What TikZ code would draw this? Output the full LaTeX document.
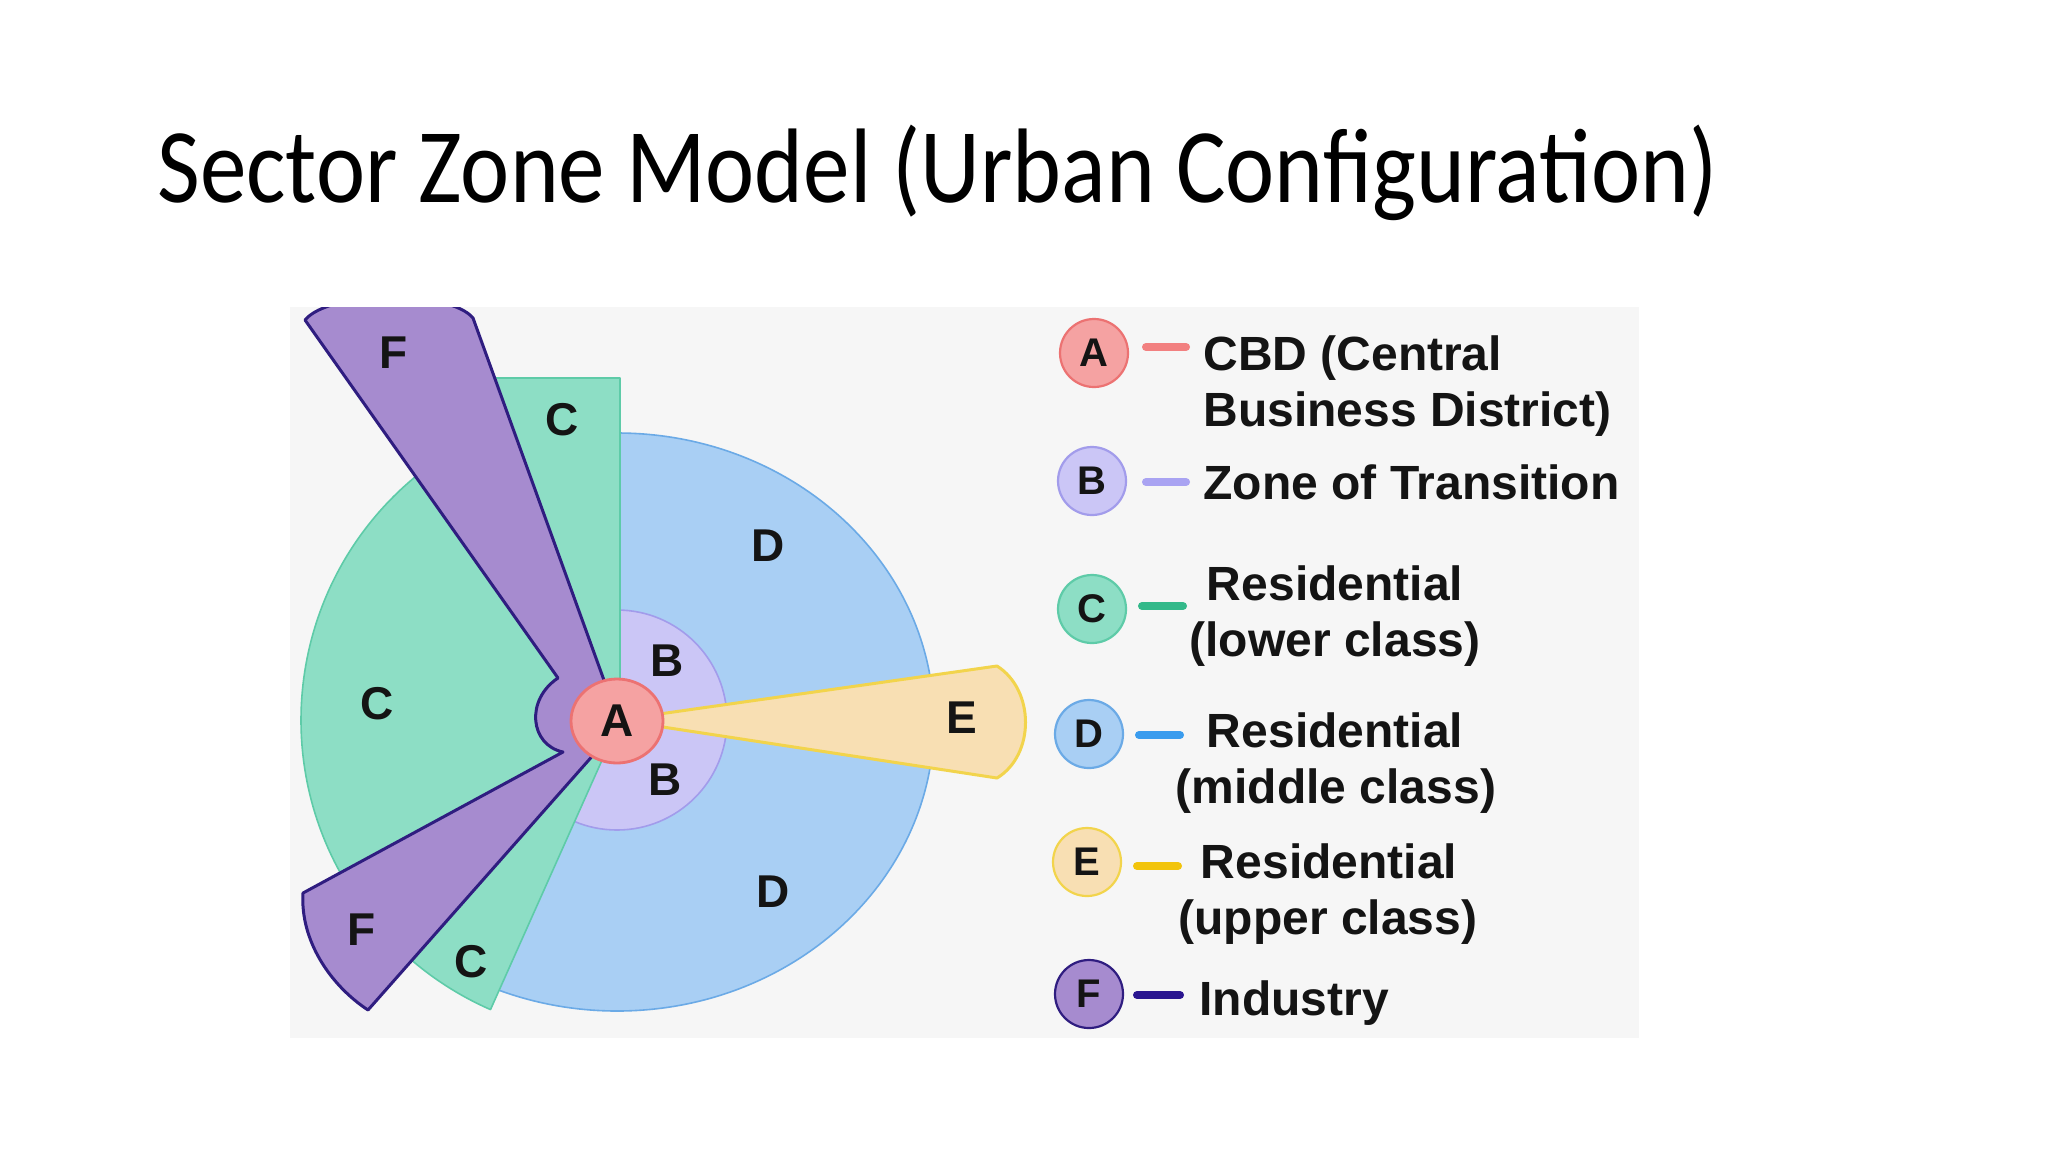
\documentclass[tikz,border=0pt]{standalone}
\usepackage{fontspec}
\setmainfont{Liberation Sans}
\newfontfamily\titlefont{Carlito}
\usetikzlibrary{shapes.geometric}
\definecolor{panel}{HTML}{F6F6F6}
\definecolor{Dfill}{HTML}{A9CFF4}
\definecolor{Dline}{HTML}{6BAAE6}
\definecolor{Bfill}{HTML}{CBC6F6}
\definecolor{Bline}{HTML}{A29CEB}
\definecolor{Cfill}{HTML}{8DDEC5}
\definecolor{Cline}{HTML}{5ECBA8}
\definecolor{Ffill}{HTML}{A68BCF}
\definecolor{Fline}{HTML}{2F1D80}
\definecolor{Efill}{HTML}{F8DFB3}
\definecolor{Eline}{HTML}{F2D44C}
\definecolor{Afill}{HTML}{F5A2A2}
\definecolor{Aline}{HTML}{EC7272}
\definecolor{Adash}{HTML}{F28080}
\definecolor{Bdash}{HTML}{A9A3F2}
\definecolor{Cdash}{HTML}{33B98A}
\definecolor{Ddash}{HTML}{3A9CEE}
\definecolor{Edash}{HTML}{F2C40C}
\definecolor{Fdash}{HTML}{2A1590}
\definecolor{ink}{HTML}{141414}
\begin{document}
\begin{tikzpicture}[x=0.5pt,y=-0.5pt,
  lbl/.style={font=\fontsize{23}{23}\selectfont\bfseries, text=ink, inner sep=0pt},
  legtext/.style={font=\fontsize{24}{24}\selectfont\bfseries, text=ink, inner sep=0pt},
  legcirc/.style={circle, minimum size=34pt, inner sep=0pt, line width=1.1pt, text=ink,
    font=\fontsize{20}{20}\selectfont\bfseries},
  legdash/.style={line width=4pt, line cap=round},
  zone/.style={line width=0.8pt, line join=round}
]
\fill[white] (0,0) rectangle (2048,1152);
\useasboundingbox (0,0) rectangle (2048,1152);

% title
\node[anchor=base west, inner sep=0pt, font=\titlefont\fontsize{53}{53}\selectfont] (title) at (157,202) {\scalebox{0.878}[1]{Sector Zone Model (Urban Configuration)}};

% panel
\fill[panel] (290,307) rectangle (1639,1038);

\begin{scope}
\clip (290,307) rectangle (1639,1038);
% D zone
\filldraw[zone, fill=Dfill, draw=Dline] (617,722) -- (617,433)
  arc[start angle=-90, end angle=120, x radius=317, y radius=289] -- cycle;
% B zone
\filldraw[zone, fill=Bfill, draw=Bline] (617,720) circle[radius=110];
% C zone
\filldraw[zone, fill=Cfill, draw=Cline] (620,720) -- (620,378) -- (490,378)
  -- ([shift={(617,720)}]-129.8:316) arc[start angle=-129.8, end angle=-246.4, radius=316] -- cycle;
% F zone
\filldraw[fill=Ffill, draw=Fline, line width=1.5pt, line join=round]
  (605,683) -- (473,318) .. controls (450,290) and (330,290) .. (305,320)
  -- (558,678) .. controls (525,700) and (530,745) .. (563,752)
  -- (303,893) .. controls (300,940) and (330,985) .. (368,1010)
  -- (595,753) -- (612,720) -- cycle;
% E zone
\filldraw[fill=Efill, draw=Eline, line width=1.5pt, line join=round]
  (617,720) -- (997,666) .. controls (1035,690) and (1035,755) .. (997,778) -- cycle;
\end{scope}

% A (CBD)
\node[ellipse, minimum width=46pt, minimum height=42pt, inner sep=0pt, fill=Afill, draw=Aline,
  line width=1.4pt, font=\fontsize{23}{23}\selectfont\bfseries, text=ink] (cbd) at (617,721) {A};

% zone labels
\node[lbl] (lF1) at (394,353) {F};
\node[lbl] (lC1) at (562,420) {C};
\node[lbl] (lC2) at (377,704) {C};
\node[lbl] (lD1) at (768,546) {D};
\node[lbl] (lB1) at (667,661) {B};
\node[lbl] (lB2) at (665,780) {B};
\node[lbl] (lE) at (962,718) {E};
\node[lbl] (lD2) at (773,892) {D};
\node[lbl] (lF2) at (362,930) {F};
\node[lbl] (lC3) at (471,962) {C};

% legend
\node[legcirc, fill=Afill, draw=Aline] (legA) at (1094,353) {A};
\node[legcirc, fill=Bfill, draw=Bline] (legB) at (1092,481) {B};
\node[legcirc, fill=Cfill, draw=Cline] (legC) at (1092,609) {C};
\node[legcirc, fill=Dfill, draw=Dline] (legD) at (1089,734) {D};
\node[legcirc, fill=Efill, draw=Eline] (legE) at (1087,862) {E};
\node[legcirc, fill=Ffill, draw=Fline] (legF) at (1089,994) {F};

\draw[legdash, Adash] (1146,347) -- (1186,347);
\draw[legdash, Bdash] (1146,482) -- (1186,482);
\draw[legdash, Cdash] (1142,606) -- (1183,606);
\draw[legdash, Ddash] (1139,735) -- (1180,735);
\draw[legdash, Edash] (1137,866) -- (1178,866);
\draw[legdash, Fdash] (1137,995) -- (1180,995);

\node[legtext, anchor=base west] (tA1) at (1203,370) {CBD (Central};
\node[legtext, anchor=base west] (tA2) at (1203,426) {Business District)};
\node[legtext, anchor=base west] (tB) at (1203,499) {Zone of Transition};
\node[legtext, anchor=base] (tC1) at (1335,600) {Residential};
\node[legtext, anchor=base] (tC2) at (1335,656) {(lower class)};
\node[legtext, anchor=base] (tD1) at (1335,747) {Residential};
\node[legtext, anchor=base] (tD2) at (1336,803) {(middle class)};
\node[legtext, anchor=base] (tE1) at (1329,878) {Residential};
\node[legtext, anchor=base] (tE2) at (1328,934) {(upper class)};
\node[legtext, anchor=base west] (tF) at (1199,1015) {Industry};
\end{tikzpicture}
\end{document}
